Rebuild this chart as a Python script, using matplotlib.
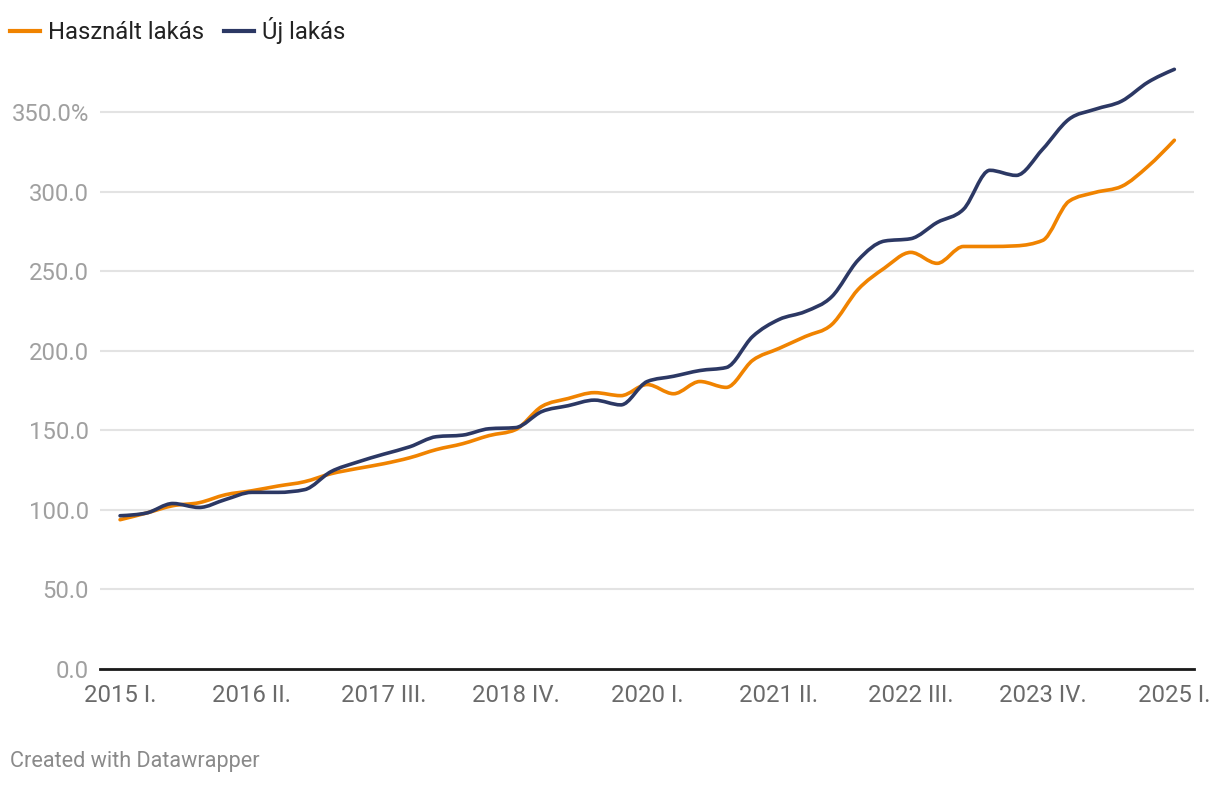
import numpy as np
import matplotlib.pyplot as plt
from matplotlib.path import Path
from matplotlib.patches import PathPatch
from matplotlib.lines import Line2D

plt.rcParams['font.family'] = ['Roboto', 'DejaVu Sans']

# quarterly index, 2015 Q1 - 2025 Q1
years = list(range(2015, 2026))
roman = ['I.', 'II.', 'III.', 'IV.']
quarters = [f"{y} {r}" for y in years for r in roman][:41]

hasznalt = [93.8, 98.0, 102.6, 104.5, 109.5, 112.0, 115.0, 117.7, 122.7, 126.0,
            129.0, 132.8, 137.9, 141.6, 146.7, 150.4, 165.0, 170.0, 173.7, 171.8,
            178.8, 173.0, 180.7, 177.0, 194.0, 201.5, 209.0, 216.5, 238.6, 252.0,
            261.9, 255.0, 265.6, 265.6, 266.0, 269.4, 294.0, 299.6, 303.4, 316.0,
            332.4]
uj = [96.3, 98.0, 104.0, 101.5, 106.5, 111.0, 111.0, 112.7, 124.0, 130.0,
      135.0, 139.7, 146.0, 147.0, 151.0, 151.7, 161.8, 165.5, 169.0, 166.0,
      180.7, 184.0, 187.6, 189.5, 209.0, 219.7, 224.7, 234.0, 257.0, 269.0,
      270.5, 280.7, 289.0, 313.5, 310.3, 326.7, 345.6, 351.9, 357.0, 368.9,
      377.0]

yticks = [0, 50, 100, 150, 200, 250, 300, 350]
ylabels = ['0.0', '50.0', '100.0', '150.0', '200.0', '250.0', '300.0', '350.0%']

orange = '#f08300'
navy = '#2c3864'


def monotone_path(xs, ys):
    # bezier path like d3.curveMonotoneX
    xs = np.asarray(xs, float)
    ys = np.asarray(ys, float)
    n = len(xs)
    h = np.diff(xs)
    s = np.diff(ys) / h
    t = np.zeros(n)
    for i in range(1, n - 1):
        p = (s[i - 1] * h[i] + s[i] * h[i - 1]) / (h[i - 1] + h[i])
        t[i] = (np.sign(s[i - 1]) + np.sign(s[i])) * min(abs(s[i - 1]), abs(s[i]), 0.5 * abs(p))
    t[0] = (3 * s[0] - t[1]) / 2
    t[-1] = (3 * s[-1] - t[-2]) / 2
    verts = [(xs[0], ys[0])]
    codes = [Path.MOVETO]
    for i in range(n - 1):
        dx = h[i] / 3
        verts += [(xs[i] + dx, ys[i] + dx * t[i]),
                  (xs[i + 1] - dx, ys[i + 1] - dx * t[i + 1]),
                  (xs[i + 1], ys[i + 1])]
        codes += [Path.CURVE4] * 3
    return Path(verts, codes)


fig = plt.figure(figsize=(12.2, 7.86), dpi=100)
ax = fig.add_axes([0.082, 0.149, 0.897, 0.779])

x = np.arange(len(quarters))
for vals, col, z in [(hasznalt, orange, 3), (uj, navy, 4)]:
    ax.add_patch(PathPatch(monotone_path(x, vals), fill=False, edgecolor=col,
                           lw=2.6, capstyle='round', joinstyle='round', zorder=z))

ax.set_xlim(-0.76, 40.76)
ax.set_ylim(0, 385)
ax.set_yticks(yticks)
ax.set_yticklabels(ylabels)
ax.set_xticks(x[::5])
ax.set_xticklabels([quarters[i] for i in range(0, 41, 5)])

ax.grid(axis='y', color='#e3e3e3', lw=1.5)
ax.set_axisbelow(True)
for s in ['top', 'right', 'left']:
    ax.spines[s].set_visible(False)
ax.spines['bottom'].set_color('#1a1a1a')
ax.spines['bottom'].set_linewidth(2)
ax.spines['bottom'].set_zorder(5)

ax.tick_params(axis='y', length=0, pad=8, labelsize=17.2, labelcolor='#a0a0a0')
ax.tick_params(axis='x', length=0, pad=11, labelsize=17.2, labelcolor='#6a6a6a')

handles = [Line2D([], [], color=orange, lw=3), Line2D([], [], color=navy, lw=3)]
leg = fig.legend(handles, ['Használt lakás', 'Új lakás'], loc='upper left',
                 bbox_to_anchor=(0.008, 1 - 17 / 786), ncol=2, frameon=False,
                 fontsize=17.2, handlelength=1.25, handletextpad=0.33,
                 columnspacing=0.85, borderaxespad=0, borderpad=0)
for t in leg.get_texts():
    t.set_color('#222222')

fig.text(0.008, 1 - 762 / 786, 'Created with Datawrapper', fontsize=15.6,
         color='#8a8a8a', va='center')

fig.savefig('out.png', dpi=100)
